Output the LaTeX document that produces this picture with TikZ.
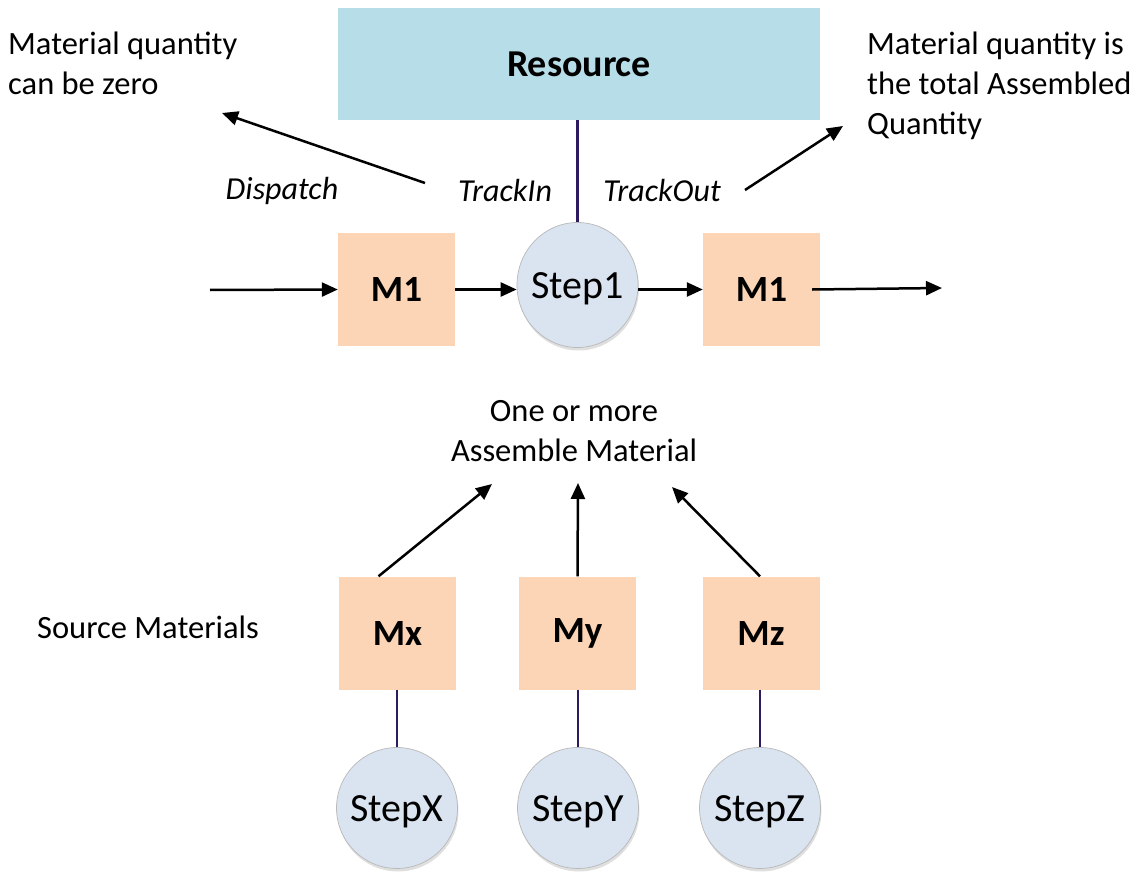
\documentclass[tikz,border=0pt]{standalone}
\usepackage{fontspec}
\setmainfont{Carlito}
\usetikzlibrary{arrows.meta,shadows,shapes.geometric}
\definecolor{resblue}{HTML}{B7DDE8}
\definecolor{matorange}{HTML}{FBD5B5}
\definecolor{stepblue}{HTML}{DAE3F0}
\definecolor{linkpurple}{HTML}{2E1A5E}
\tikzset{
  x=1pt,y=-1pt,
  matbox/.style={fill=matorange,draw=none,minimum width=117pt,minimum height=113pt,inner sep=0pt,font=\fontsize{37}{44}\selectfont\bfseries},
  stepnode/.style={ellipse,fill=stepblue,draw=gray!55,line width=0.7pt,inner sep=0pt,drop shadow={shadow xshift=1pt,shadow yshift=-3pt,opacity=0.25},
    label={[font=\fontsize{40}{46}\selectfont,yshift=-4pt,inner sep=0pt]center:#1}},
  lbl/.style={font=\fontsize{32.5}{40}\selectfont,inner sep=0pt},
  ilbl/.style={font=\fontsize{32}{40}\selectfont\itshape,inner sep=0pt},
  arr/.style={-{Triangle[length=16pt,width=14pt]},line width=2.5pt,black},
  link/.style={draw=linkpurple,line width=2.2pt}
}
\begin{document}
\begin{tikzpicture}
\useasboundingbox (0,0) rectangle (1136,872);
% Resource
\node[fill=resblue,minimum width=482pt,minimum height=112pt,inner sep=0pt,font=\fontsize{38}{44}\selectfont\bfseries] (res) at (579,64) {Resource};
% main row
\node[matbox] (m1a) at (396.5,289.5) {M1};
\node[stepnode=Step1,minimum width=121pt,minimum height=125pt] (s1) at (577.5,285) {};
\node[matbox] (m1b) at (761.5,289.5) {M1};
\coordinate (inL) at (210,290);
\coordinate (outR) at (942,288);
\draw[arr] (inL) -- (m1a.west);
\draw[arr] (m1a.east) -- (s1.west |- m1a.east);
\draw[arr] (s1.east |- m1b.west) -- (m1b.west);
\draw[arr] (m1b.east) ++(-8,0) -- (outR);
\draw[link] (res.south -| s1.north) -- (s1.north);
% labels
\node[ilbl] (disp) at (282,191) {Dispatch};
\node[ilbl] (tin) at (505,191) {TrackIn};
\node[ilbl] (tout) at (662,191) {TrackOut};
\node[lbl,anchor=north west,align=left] (zero) at (8,32) {Material quantity\\can be zero};
\node[lbl,anchor=north west,align=left] (total) at (867,32) {Material quantity is\\the total Assembled\\Quantity};
\coordinate (dA) at (425,183);
\coordinate (dB) at (222,113);
\coordinate (tA) at (745,190);
\coordinate (tB) at (843,126);
\draw[arr] (dA) -- (dB);
\draw[arr] (tA) -- (tB);
% assemble
\node[lbl,align=center] (asm) at (574,431) {One or more\\Assemble Material};
\node[lbl,anchor=west] (src) at (37,627) {Source Materials};
\node[matbox] (mx) at (397.5,633) {Mx};
\node[matbox] (my) at (577.5,633) {My};
\node[matbox] (mz) at (761,633) {Mz};
\coordinate (ax) at (492,484);
\coordinate (ay) at (578,483);
\coordinate (az) at (672,487);
\draw[arr] (mx.north) ++(-19,0) -- (ax);
\draw[arr] (my.north) -- (ay);
\draw[arr] (mz.north) ++(-1,0) -- (az);
\node[stepnode=StepX,circle,minimum size=121pt] (sx) at (397,808) {};
\node[stepnode=StepY,circle,minimum size=121pt] (sy) at (578,808) {};
\node[stepnode=StepZ,circle,minimum size=121pt] (sz) at (760,808) {};
\draw[link] (mx.south -| sx.north) -- (sx.north);
\draw[link] (my.south -| sy.north) -- (sy.north);
\draw[link] (mz.south -| sz.north) -- (sz.north);
\end{tikzpicture}
\end{document}
